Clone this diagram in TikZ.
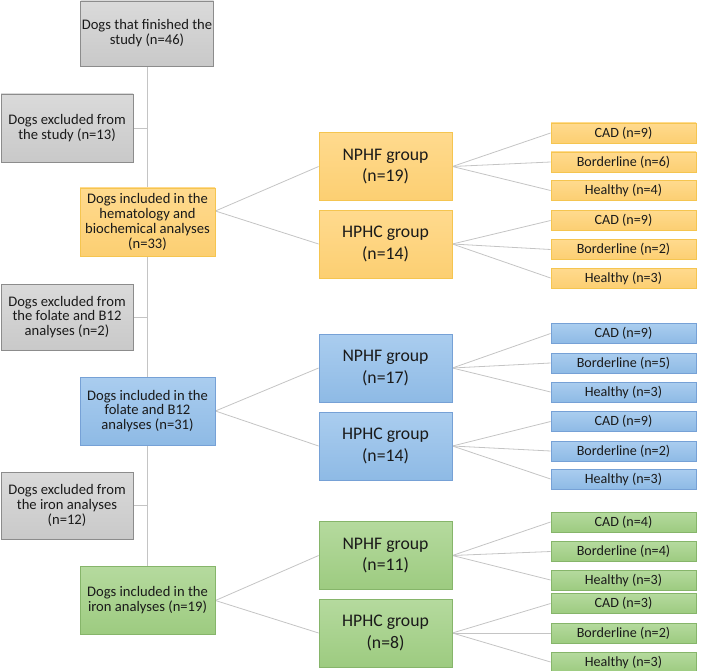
\documentclass[tikz,border=0pt]{standalone}
\usepackage{fontspec}
\setmainfont{Carlito}
\usetikzlibrary{backgrounds}
\definecolor{txt}{HTML}{1A1A1A}
\definecolor{greyB}{HTML}{8C8C8C}
\definecolor{greyT}{HTML}{DADADA}
\definecolor{greyM}{HTML}{C9C9C9}
\definecolor{yelB}{HTML}{F5C550}
\definecolor{yelT}{HTML}{FFDA8E}
\definecolor{yelM}{HTML}{FCCF72}
\definecolor{bluB}{HTML}{76A1D6}
\definecolor{bluT}{HTML}{AACDEF}
\definecolor{bluM}{HTML}{8EBAE5}
\definecolor{grnB}{HTML}{86B56A}
\definecolor{grnT}{HTML}{B5DA9E}
\definecolor{grnM}{HTML}{9DCB80}
\definecolor{lineC}{HTML}{C4C4C4}
\begin{document}
\begin{tikzpicture}[x=1pt,y=-1pt,
  box/.style={draw, line width=0.8pt, align=center, inner sep=1pt, text=txt},
  bigtxt/.style={font=\fontsize{14.6}{14.8}\selectfont},
  grptxt/.style={font=\fontsize{17.7}{21.7}\selectfont},
  smltxt/.style={font=\fontsize{14.1}{14}\selectfont},
  greybox/.style={box, bigtxt, draw=greyB, top color=greyT, bottom color=greyM},
  mainbox/.style={box, bigtxt, minimum width=135pt, minimum height=68pt},
  grpbox/.style={box, grptxt, minimum width=133pt, minimum height=68pt},
  smlbox/.style={box, smltxt, minimum width=145pt, minimum height=20pt},
  yel/.style={draw=yelB, top color=yelT, bottom color=yelM},
  blu/.style={draw=bluB, top color=bluT, bottom color=bluM},
  grn/.style={draw=grnB, top color=grnT, bottom color=grnM},
  conn/.style={draw=lineC, line width=0.8pt}]
\useasboundingbox (0,0) rectangle (709,671);

% left column
\node[greybox, minimum width=133pt, minimum height=65pt] (top) at (147,33.5) {Dogs that finished the\\study (n=46)};
\node[greybox, minimum width=132pt, minimum height=68pt] (exc1) at (67,128) {Dogs excluded from\\the study (n=13)};
\node[mainbox, yel] (hem) at (147.5,222) {Dogs included in the\\hematology and\\biochemical analyses\\(n=33)};
\node[greybox, minimum width=132pt, minimum height=66pt] (exc2) at (67,317) {Dogs excluded from\\the folate and B12\\analyses (n=2)};
\node[mainbox, blu] (fol) at (147.5,411) {Dogs included in the\\folate and B12\\analyses (n=31)};
\node[greybox, minimum width=132pt, minimum height=67pt] (exc3) at (67,505.5) {Dogs excluded from\\the iron analyses\\(n=12)};
\node[mainbox, grn] (iron) at (147.5,600.5) {Dogs included in the\\iron analyses (n=19)};

% groups
\node[grpbox, yel] (ynp) at (385.5,166.5) {NPHF group\\(n=19)};
\node[grpbox, yel] (yhp) at (385.5,244) {HPHC group\\(n=14)};
\node[grpbox, blu] (bnp) at (385.5,368) {NPHF group\\(n=17)};
\node[grpbox, blu] (bhp) at (385.5,446) {HPHC group\\(n=14)};
\node[grpbox, grn] (gnp) at (385.5,555.5) {NPHF group\\(n=11)};
\node[grpbox, grn] (ghp) at (385.5,633) {HPHC group\\(n=8)};

% small boxes yellow
\node[smlbox, yel] (y1) at (623.5,133) {CAD (n=9)};
\node[smlbox, yel] (y2) at (623.5,162) {Borderline (n=6)};
\node[smlbox, yel] (y3) at (623.5,190.5) {Healthy (n=4)};
\node[smlbox, yel] (y4) at (623.5,220.5) {CAD (n=9)};
\node[smlbox, yel] (y5) at (623.5,249.5) {Borderline (n=2)};
\node[smlbox, yel] (y6) at (623.5,278) {Healthy (n=3)};
% small boxes blue
\node[smlbox, blu] (b1) at (623.5,333.5) {CAD (n=9)};
\node[smlbox, blu] (b2) at (623.5,363) {Borderline (n=5)};
\node[smlbox, blu] (b3) at (623.5,392) {Healthy (n=3)};
\node[smlbox, blu] (b4) at (623.5,421.5) {CAD (n=9)};
\node[smlbox, blu] (b5) at (623.5,451) {Borderline (n=2)};
\node[smlbox, blu] (b6) at (623.5,479) {Healthy (n=3)};
% small boxes green
\node[smlbox, grn] (g1) at (623.5,522) {CAD (n=4)};
\node[smlbox, grn] (g2) at (623.5,551.5) {Borderline (n=4)};
\node[smlbox, grn] (g3) at (623.5,580) {Healthy (n=3)};
\node[smlbox, grn] (g4) at (623.5,603.5) {CAD (n=3)};
\node[smlbox, grn] (g5) at (623.5,633) {Borderline (n=2)};
\node[smlbox, grn] (g6) at (623.5,662) {Healthy (n=3)};

\coordinate (hemR) at ([yshift=11pt]hem.east);

\begin{scope}[on background layer]
  \draw[conn] (top.south) -- (top.south |- iron.north);
  \draw[conn] (exc1.east) -- (exc1.east -| top.south);
  \draw[conn] (exc2.east) -- (exc2.east -| top.south);
  \draw[conn] (exc3.east) -- (exc3.east -| top.south);
  \draw[conn] (hemR) -- (ynp.west);
  \draw[conn] (hemR) -- (yhp.west);
  \draw[conn] (fol.east) -- (bnp.west);
  \draw[conn] (fol.east) -- (bhp.west);
  \draw[conn] (iron.east) -- (gnp.west);
  \draw[conn] (iron.east) -- (ghp.west);
  \foreach \g/\a/\b/\c in {ynp/y1/y2/y3, yhp/y4/y5/y6, bnp/b1/b2/b3, bhp/b4/b5/b6, gnp/g1/g2/g3, ghp/g4/g5/g6} {
    \draw[conn] (\g.east) -- (\a.west);
    \draw[conn] (\g.east) -- (\b.west);
    \draw[conn] (\g.east) -- (\c.west);
  }
\end{scope}
\end{tikzpicture}
\end{document}
